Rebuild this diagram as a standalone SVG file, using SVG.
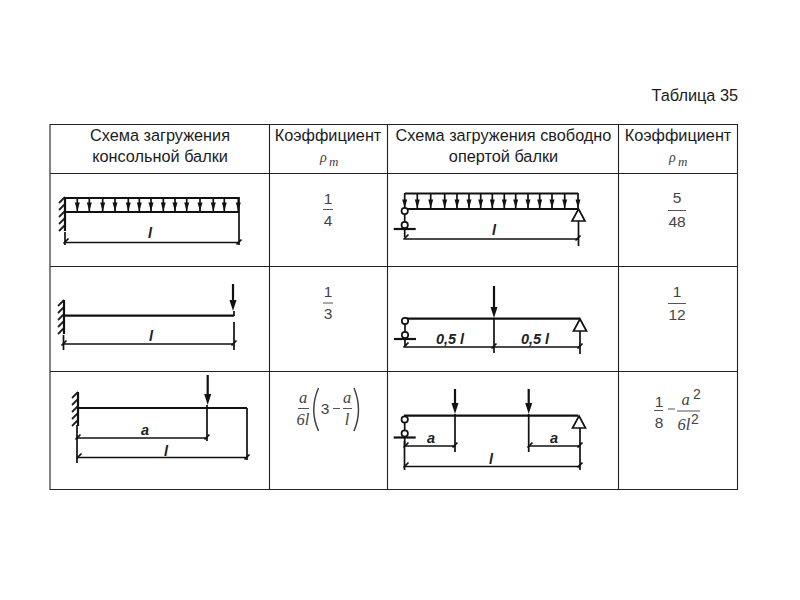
<svg xmlns="http://www.w3.org/2000/svg" width="800" height="600" viewBox="0 0 800 600">
<style>
.t{font-family:"Liberation Sans",Arial,sans-serif;font-size:16.3px;fill:#1c1c1c;text-anchor:middle}
.f{font-family:"Liberation Sans",Arial,sans-serif;font-size:15.5px;fill:#444;text-anchor:middle}
.i{font-family:"Liberation Serif","Times New Roman",serif;font-style:italic;font-size:16.5px;fill:#444;text-anchor:middle}
.p{font-family:"Liberation Serif","Times New Roman",serif;font-style:italic;fill:#444}
.d{font-family:"Liberation Sans",Arial,sans-serif;font-style:italic;font-weight:bold;font-size:14.5px;fill:#222;text-anchor:middle}
.g{fill:none;stroke:#222;stroke-width:1.1}
.fr{fill:none;stroke:#555;stroke-width:1}
.br{fill:none;stroke:#444;stroke-width:1.5}
.b{fill:none;stroke:#111;stroke-width:2.2}
.s{fill:none;stroke:#111;stroke-width:1.7}
.w{fill:none;stroke:#222;stroke-width:1.8}
.h{fill:#111;stroke:none}
.c{fill:#fff;stroke:#111;stroke-width:1.7}
</style>
<defs>
<path id="ar" class="h" d="M-2.500-7.500H2.500L0 1Z"/>
<path id="big" class="h" d="M-3.500-11H3.500L0 0Z"/>
<g id="wall"><path class="w" d="M0 0L-6 6M0 7L-6 13M0 14L-6 20M0 21L-6 27M0 28L-6 34"/><path class="b" d="M0 0V34"/></g>
<g id="pin"><path class="s" d="M0 3V11M0 18V26"/><path class="b" d="M-11 18H11"/><circle class="c" cy="0" r="3.200"/><circle class="c" cy="14" r="3.200"/></g>
<path id="tri" class="c" d="M0 0L6.500 12H-6.500Z"/>
<path id="tick" class="s" d="M-2.500 2.500L2.500-2.500"/>
</defs>
<g id="title"><text x="738" y="101" class="t" style="text-anchor:end">Таблица 35</text></g>
<g id="table">
<path class="g" d="M50 124.500H737.500V489.500H50ZM269.500 124V489M387.500 124V489M618.500 124V489M50 173.500H737M50 266.500H737M50 371.500H737"/>
<text x="160" y="141" class="t">Схема загружения</text>
<text x="160" y="162" class="t">консольной балки</text>
<text x="328" y="141" class="t">Коэффициент</text>
<text x="503.500" y="141" class="t">Схема загружения свободно</text>
<text x="503.500" y="162" class="t">опертой балки</text>
<text x="678" y="141" class="t">Коэффициент</text>
</g>
<g id="coef-1">
<text x="320" y="162" class="p" font-size="14">ρ</text><text x="329" y="166" class="p" font-size="13">m</text>
<text x="328" y="204" class="f">1</text><path class="fr" d="M323 209.500H333"/><text x="328" y="226" class="f">4</text>
<text x="328" y="297" class="f">1</text><path class="fr" d="M323 303H333"/><text x="328" y="318.500" class="f">3</text>
</g>
<g id="coef-2">
<text x="669" y="162" class="p" font-size="14">ρ</text><text x="678" y="166" class="p" font-size="13">m</text>
<text x="677" y="203" class="f">5</text><path class="fr" d="M668 210.500H686"/><text x="677" y="227" class="f">48</text>
<text x="677" y="297" class="f">1</text><path class="fr" d="M668 303.500H686"/><text x="677" y="320" class="f">12</text>
</g>
<g id="formula-1">
<text x="303" y="403" class="i">a</text><path class="fr" d="M298 408.500H309"/><text x="303" y="425" class="i">6l</text>
<path class="br" d="M318.500 388Q309 410 318.500 431"/>
<text x="325" y="413.500" class="f">3</text><path class="fr" d="M333 408.500H340"/>
<text x="347" y="403" class="i">a</text><path class="fr" d="M343 408.500H352"/><text x="347" y="425" class="i">l</text>
<path class="br" d="M354 388Q363 410 354 431"/>
</g>
<g id="formula-2">
<text x="659" y="406.500" class="f">1</text><path class="fr" d="M654 410.500H663"/><text x="659" y="428" class="f">8</text>
<path class="fr" d="M668 409H675"/>
<text x="685.500" y="405" class="i">a</text><text x="693" y="399" class="f" text-anchor="start" style="text-anchor:start;font-size:14px">2</text><path class="fr" d="M677 411H700"/>
<text x="684" y="430" class="i">6l</text><text x="691" y="424" class="f" style="text-anchor:start;font-size:14px">2</text>
</g>
<g id="beam-1">
<use href="#wall" x="65" y="197"/>
<path class="b" d="M65 198H239M65 212H239"/>
<path class="s" d="M239 197V245M65 232V245M65 242.500H239"/>
<path class="s" d="M77.300 198V212M89.300 198V212M102.700 198V212M115 198V212M128.300 198V212M139.300 198V212M151 198V212M163.300 198V212M175 198V212M186.700 198V212M200 198V212M213.300 198V212M224.300 198V212M238.300 198V212"/>
<use href="#ar" x="77.300" y="210"/><use href="#ar" x="89.300" y="210"/><use href="#ar" x="102.700" y="210"/><use href="#ar" x="115" y="210"/><use href="#ar" x="128.300" y="210"/><use href="#ar" x="139.300" y="210"/><use href="#ar" x="151" y="210"/><use href="#ar" x="163.300" y="210"/><use href="#ar" x="175" y="210"/><use href="#ar" x="186.700" y="210"/><use href="#ar" x="200" y="210"/><use href="#ar" x="213.300" y="210"/><use href="#ar" x="224.300" y="210"/><use href="#ar" x="238.300" y="210"/>
<use href="#tick" x="66" y="241"/><use href="#tick" x="239" y="242"/>
<text x="150" y="238" class="d">l</text>
</g>
<g id="beam-2">
<path class="b" d="M405 193.500H578M405 209H578"/>
<path class="s" d="M404.700 193V209M417.300 193V209M430.700 193V209M444.700 193V209M457 193V209M469 193V209M480.700 193V209M492.300 193V209M504.300 193V209M515.700 193V209M528 193V209M539.700 193V209M552 193V209M564.700 193V209M578 193V209"/>
<use href="#ar" x="404.700" y="207"/><use href="#ar" x="417.300" y="207"/><use href="#ar" x="430.700" y="207"/><use href="#ar" x="444.700" y="207"/><use href="#ar" x="457" y="207"/><use href="#ar" x="469" y="207"/><use href="#ar" x="480.700" y="207"/><use href="#ar" x="492.300" y="207"/><use href="#ar" x="504.300" y="207"/><use href="#ar" x="515.700" y="207"/><use href="#ar" x="528" y="207"/><use href="#ar" x="539.700" y="207"/><use href="#ar" x="552" y="207"/><use href="#ar" x="564.700" y="207"/><use href="#ar" x="578" y="207"/>
<use href="#pin" x="404.700" y="211"/><use href="#tri" x="578.500" y="209"/>
<path class="s" d="M578.500 221V246M405 239H578.500"/>
<use href="#tick" x="406" y="237"/><use href="#tick" x="578" y="238"/>
<text x="494" y="235" class="d">l</text>
</g>
<g id="beam-3">
<use href="#wall" x="64" y="300"/>
<path class="b" d="M64 315.700H234"/>
<path class="b" d="M233 284V302"/><use href="#big" x="233" y="311"/>
<path class="s" d="M234 311V316M234 322V350M63.500 335V350M63.500 344H234"/>
<use href="#tick" x="64" y="343"/><use href="#tick" x="234" y="343"/>
<text x="151" y="341" class="d">l</text>
</g>
<g id="beam-4">
<path class="b" d="M405 318.700H580"/>
<path class="b" d="M494 286V308"/><use href="#big" x="494" y="318"/>
<use href="#pin" x="405" y="321"/><use href="#tri" x="580" y="319"/>
<path class="s" d="M494 319V353M580 331V354M405 347H580"/>
<use href="#tick" x="406" y="345"/><use href="#tick" x="494" y="346"/><use href="#tick" x="580" y="346"/>
<text x="450" y="344" class="d">0,5 l</text><text x="535" y="344" class="d">0,5 l</text>
</g>
<g id="beam-5">
<use href="#wall" x="78" y="392"/>
<path class="b" d="M78 408H247"/>
<path class="b" d="M207.700 375V396"/><use href="#big" x="207.700" y="405"/>
<path class="s" d="M207 405V441M77 425V463M247 408V460M77 438H207M77 457.500H247"/>
<use href="#tick" x="78" y="437"/><use href="#tick" x="207" y="437"/><use href="#tick" x="79" y="456"/><use href="#tick" x="247" y="457"/>
<text x="145" y="435" class="d">a</text><text x="166" y="456" class="d">l</text>
</g>
<g id="beam-6">
<path class="b" d="M404 415.700H578"/>
<path class="b" d="M455 389V405M528.700 389V405"/><use href="#big" x="455" y="414"/><use href="#big" x="528.700" y="414"/>
<use href="#pin" x="404.700" y="419.500"/><use href="#tri" x="579" y="416"/>
<path class="s" d="M455 414V452M528.700 414V452M580 428V470M404.500 441V470M404.500 446H455M528.700 446H580M404.500 466.500H580"/>
<use href="#tick" x="406" y="445"/><use href="#tick" x="455" y="445"/><use href="#tick" x="530" y="445"/><use href="#tick" x="580" y="445"/><use href="#tick" x="406" y="465"/><use href="#tick" x="580" y="465"/>
<text x="431" y="443" class="d">a</text><text x="554" y="443" class="d">a</text><text x="491" y="464" class="d">l</text>
</g>
</svg>
